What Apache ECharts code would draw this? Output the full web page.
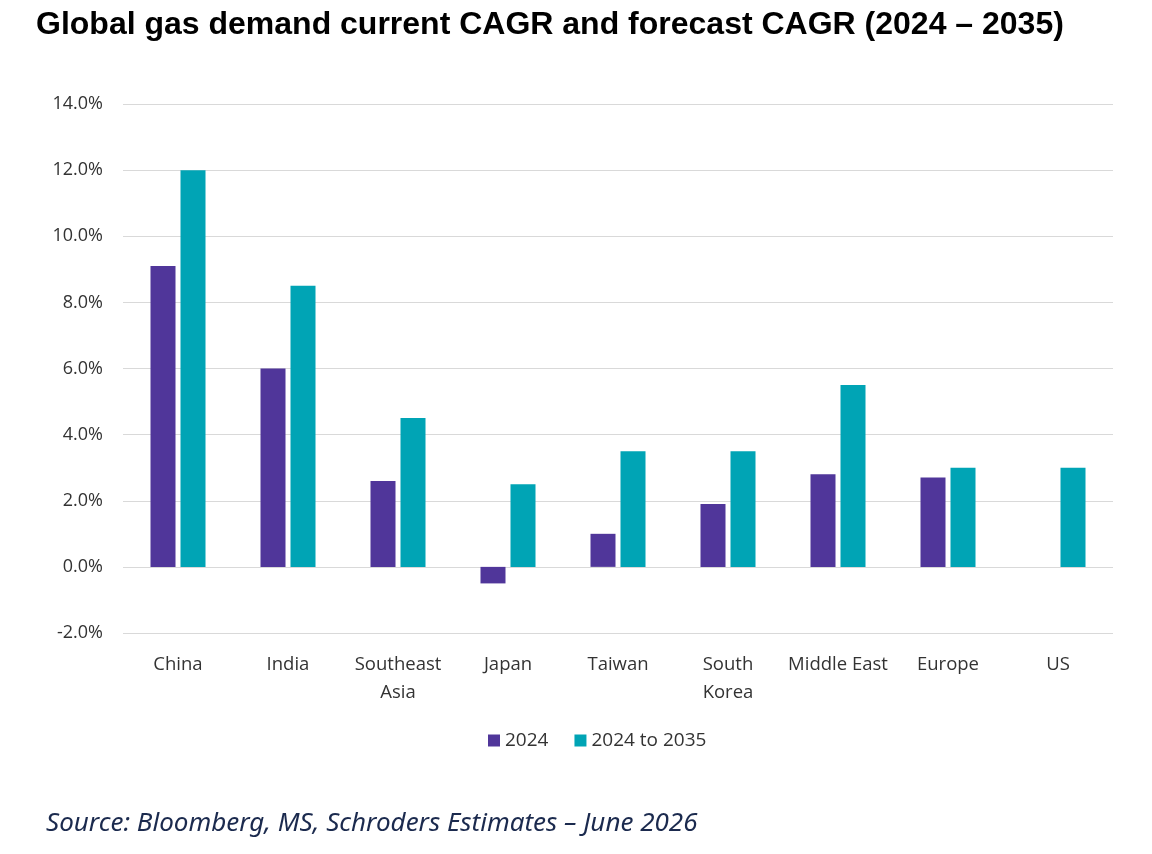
<!DOCTYPE html>
<html>
<head>
<meta charset="utf-8">
<script src="https://cdn.jsdelivr.net/npm/echarts@6/dist/echarts.min.js"></script>
<style>
  html, body { margin: 0; padding: 0; background: #fff; }
  #chart { width: 1152px; height: 854px; }
</style>
</head>
<body>
<div id="chart"></div>
<script>
// categories and values
var regions = ["China", "India", "Southeast\nAsia", "Japan", "Taiwan", "South\nKorea", "Middle East", "Europe", "US"];
var cagr2024 = [9.1, 6.0, 2.6, -0.5, 1.0, 1.9, 2.8, 2.7, null];
var cagr2035 = [12.0, 8.5, 4.5, 2.5, 3.5, 3.5, 5.5, 3.0, 3.0];
var yTicks = { min: -2, max: 14, step: 2 };

var chart = echarts.init(document.getElementById("chart"));

var option = {
    backgroundColor: "#ffffff",
    animation: false,
    title: [{
        text: "Global gas demand current CAGR and forecast CAGR (2024 \u2013 2035)",
        left: 31, top: 4,
        textStyle: { fontFamily: "Liberation Sans", fontWeight: "bold", fontSize: 32, color: "#000" }
    }, {
        text: "Source: Bloomberg, MS, Schroders Estimates \u2013 June 2026",
        left: 41, top: 806,
        textStyle: { fontFamily: "Noto Sans", fontStyle: "italic", fontWeight: "normal", fontSize: 26, color: "#1b2a4e" }
    }],
    legend: {
        top: 726, left: 483,
        itemWidth: 12, itemHeight: 12, itemGap: 26,
        icon: "rect",
        textStyle: { fontFamily: "Open Sans", fontSize: 19, color: "#333" }
    },
    grid: { left: 123, right: 39, top: 104, bottom: 221, containLabel: false },
    xAxis: {
        type: "category",
        data: regions,
        axisLine: { show: false },
        axisTick: { show: false },
        axisLabel: { fontFamily: "Open Sans", fontSize: 18.5, color: "#333", lineHeight: 28, margin: 18, interval: 0 }
    },
    yAxis: {
        type: "value",
        min: yTicks.min, max: yTicks.max, interval: yTicks.step,
        axisLine: { show: false },
        axisTick: { show: false },
        axisLabel: {
            fontFamily: "Open Sans", fontSize: 18, color: "#333", margin: 20,
            formatter: function (v) { return v.toFixed(1) + "%"; }
        },
        splitLine: { lineStyle: { color: "#d9d9d9", width: 1 } }
    },
    series: [{
        name: "2024",
        type: "bar",
        data: cagr2024,
        itemStyle: { color: "#50369a" },
        barWidth: 25,
        barGap: "20%"
    }, {
        name: "2024 to 2035",
        type: "bar",
        data: cagr2035,
        itemStyle: { color: "#00a4b5" },
        barWidth: 25,
        barGap: "20%"
    }]
};

chart.setOption(option);
</script>
</body>
</html>
